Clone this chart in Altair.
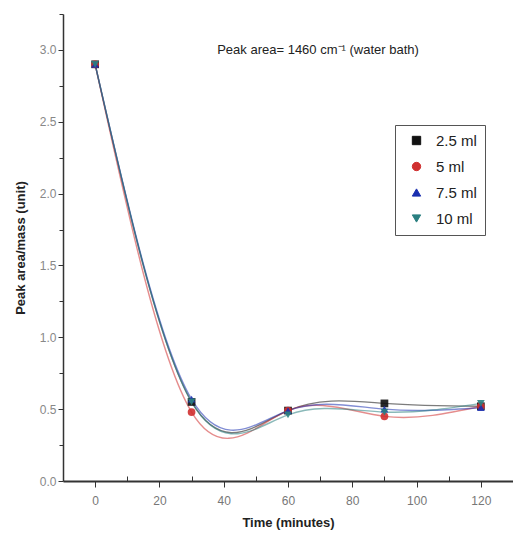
import altair as alt
import pandas as pd

times = [0, 30, 60, 90, 120]
series_names = ["2.5 ml", "5 ml", "7.5 ml", "10 ml"]
vals_25 = [2.90, 0.55, 0.49, 0.54, 0.52]
vals_5 = [2.90, 0.48, 0.49, 0.45, 0.52]
vals_75 = [2.90, 0.57, 0.49, 0.50, 0.51]
vals_10 = [2.90, 0.55, 0.46, 0.48, 0.54]

colors = ["#111111", "#d03030", "#1a2fb0", "#2a7f80"]
shapes = ["square", "circle", "triangle-up", "triangle-down"]

rows = []
for name, vals in zip(series_names, [vals_25, vals_5, vals_75, vals_10]):
    for t, v in zip(times, vals):
        rows.append({"Time": t, "Value": v, "Series": name})
df = pd.DataFrame(rows)

FONT = "Liberation Sans"
xscale = alt.Scale(domain=[-10, 130], nice=False, zero=False)
yscale = alt.Scale(domain=[0, 3.25], nice=False)
leg = alt.Legend(orient="none", legendX=332, legendY=111, title=None,
                 strokeColor="#555555", padding=8, labelFont=FONT,
                 labelFontSize=15, labelColor="#222", symbolSize=70,
                 rowPadding=10, symbolStrokeWidth=1, labelOffset=12,
                 symbolOpacity=1, symbolOffset=6)
color = alt.Color("Series:N", scale=alt.Scale(domain=series_names, range=colors), legend=leg)
shape = alt.Shape("Series:N", scale=alt.Scale(domain=series_names, range=shapes), legend=leg)

base = alt.Chart(df)

lines = base.mark_line(interpolate="natural", strokeWidth=1.4, opacity=0.55).encode(
    x=alt.X("Time:Q", scale=xscale,
            axis=alt.Axis(values=[0, 20, 40, 60, 80, 100, 120], title="Time (minutes)",
                          titleFont=FONT, titleFontSize=13, titleFontWeight="bold",
                          titleColor="#222", titlePadding=10, labelFont=FONT,
                          labelFontSize=12, labelColor="#777", grid=False,
                          domainColor="#333", domainWidth=2, tickColor="#333",
                          tickSize=6, labelPadding=8)),
    y=alt.Y("Value:Q", scale=yscale,
            axis=alt.Axis(values=[0, 0.5, 1.0, 1.5, 2.0, 2.5, 3.0], format=".1f",
                          title="Peak area/mass (unit)", titleFont=FONT, titleFontSize=13,
                          titleFontWeight="bold", titleColor="#222", titlePadding=12,
                          labelFont=FONT, labelFontSize=12, labelColor="#888", grid=False,
                          domainColor="#333", domainWidth=1.5, tickColor="#333", tickSize=5)),
    color=alt.Color("Series:N", scale=alt.Scale(domain=series_names, range=colors), legend=leg),
    detail="Series:N",
)

points = base.mark_point(filled=True, size=60, opacity=0.9).encode(
    x=alt.X("Time:Q", scale=xscale,
            axis=alt.Axis(values=[10, 30, 50, 70, 90, 110, 130], labels=False, title=None,
                          grid=False, domain=False, tickColor="#333", tickSize=5,
                          offset=-5, orient="bottom")),
    y=alt.Y("Value:Q", scale=yscale,
            axis=alt.Axis(values=[0.25, 0.75, 1.25, 1.75, 2.25, 2.75, 3.25], labels=False,
                          title=None, grid=False, domain=False, tickColor="#333", tickSize=4,
                          orient="left")),
    color=color,
    shape=shape,
)

label = alt.Chart(pd.DataFrame({"t": ["Peak area= 1460 cm\u207b\u00b9 (water bath)"]})).mark_text(
    font=FONT, fontSize=13, color="#222").encode(
    text="t:N", x=alt.value(255), y=alt.value(36))

chart = alt.layer(lines, points, label).resolve_axis(x="independent", y="independent").properties(
    width=450, height=467,
    padding={"left": 63, "top": 14, "right": 0, "bottom": 70},
    autosize=alt.AutoSizeParams(type="none"),
).configure_view(stroke=None)

chart.save("out.html", embed_options={"renderer": "svg", "actions": False})
